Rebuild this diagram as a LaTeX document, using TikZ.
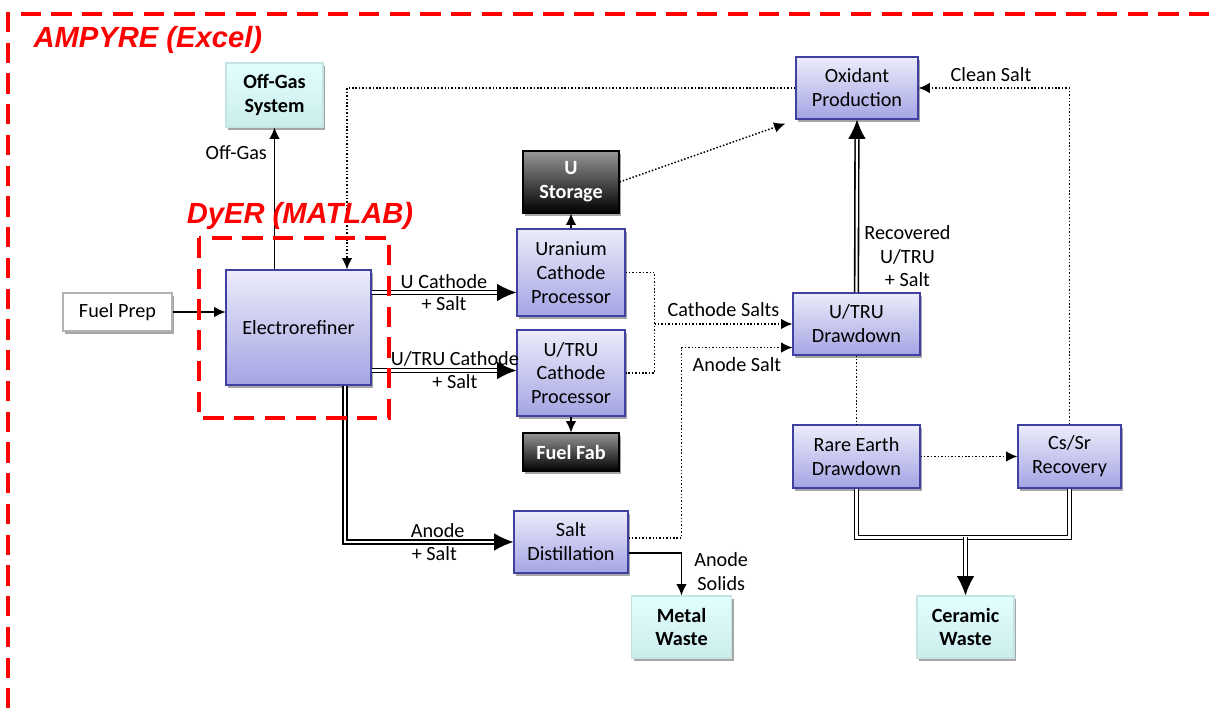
\documentclass[tikz,border=0pt]{standalone}
\usepackage{fontspec}
\setmainfont{Carlito}
\newfontfamily\titlefont{Liberation Sans}
\usetikzlibrary{arrows.meta,calc,shadows}
\definecolor{procline}{RGB}{64,64,160}
\definecolor{proctop}{RGB}{236,236,250}
\definecolor{procbot}{RGB}{164,164,228}
\definecolor{wastetop}{RGB}{226,255,255}
\definecolor{wastebot}{RGB}{204,236,236}
\definecolor{wasteline}{RGB}{196,228,228}
\definecolor{stortop}{RGB}{150,150,150}
\definecolor{zonered}{RGB}{255,0,0}
\begin{document}
\begin{tikzpicture}[x=0.02cm, y=-0.02cm, >={Latex[length=6.5pt,width=6pt]}, line width=0.7pt,
        boxbase/.style={draw, align=center, inner sep=1pt, line width=0.6pt,
            font=\fontsize{11.5}{13.6}\selectfont,
            drop shadow={shadow xshift=1.2pt, shadow yshift=-1.5pt, opacity=0.35, fill=black}},
        proc/.style={boxbase, draw=procline, top color=proctop, bottom color=procbot},
        waste/.style={boxbase, draw=wasteline, top color=wastetop, bottom color=wastebot,
            font=\fontsize{11.5}{13.6}\selectfont\bfseries},
        store/.style={boxbase, draw=black, top color=stortop, bottom color=black, text=white,
            font=\fontsize{11.5}{13.6}\selectfont\bfseries},
        feed/.style={boxbase, draw=black!30, fill=white},
        lbl/.style={font=\fontsize{11.5}{13.6}\selectfont, inner sep=1pt, align=center},
        dotflow/.style={line width=0.85pt, dash pattern=on 0.85pt off 1.1pt},
        dbl/.style={double, double distance=1.2pt, line width=0.9pt},
        dblarrow/.style={dbl, -{Latex[length=11pt,width=10pt]}},
        zone/.style={draw=zonered, line width=2pt, dash pattern=on 11.5pt off 6pt},
        zonetitle/.style={text=zonered, inner sep=0pt,
            font=\titlefont\fontsize{16.6}{19}\selectfont\bfseries\itshape}]
        \useasboundingbox (0,0) rectangle (1218,709);
        % process units
        \draw (274.5,95)node[waste, minimum width=1.94cm, minimum height=1.28cm, name=offgas]{Off-Gas\\System};
        \draw (857,88)node[proc, minimum width=2.44cm, minimum height=1.24cm, name=oxid]{Oxidant\\Production};
        \draw (571,182)node[store, minimum width=1.92cm, minimum height=1.24cm, name=ustor]{U\\Storage};
        \draw (117.5,312)node[feed, minimum width=2.18cm, minimum height=0.76cm, name=fuelprep]{Fuel Prep};
        \draw (298.5,327.5)node[proc, minimum width=2.9cm, minimum height=2.3cm, name=er]{Electrorefiner};
        \draw (571,272.5)node[proc, minimum width=2.16cm, minimum height=1.74cm, name=ucp]{Uranium\\Cathode\\Processor};
        \draw (571,373)node[proc, minimum width=2.16cm, minimum height=1.72cm, name=tcp]{U/TRU\\Cathode\\Processor};
        \draw (571,452)node[store, minimum width=1.92cm, minimum height=0.76cm, name=fab]{Fuel Fab};
        \draw (856.5,324)node[proc, minimum width=2.54cm, minimum height=1.24cm, name=utd]{U/TRU\\Drawdown};
        \draw (856.5,456.5)node[proc, minimum width=2.54cm, minimum height=1.26cm, name=red]{Rare Earth\\Drawdown};
        \draw (1069.5,456.5)node[proc, minimum width=2.06cm, minimum height=1.26cm, name=cssr]{Cs/Sr\\Recovery};
        \draw (571,542)node[proc, minimum width=2.28cm, minimum height=1.24cm, name=sdist]{Salt\\Distillation};
        \draw (681.5,627)node[waste, minimum width=2.0cm, minimum height=1.24cm, name=mwaste]{Metal\\Waste};
        \draw (965.5,627)node[waste, minimum width=1.94cm, minimum height=1.24cm, name=cwaste]{Ceramic\\Waste};
        % solid streams
        \draw[->] (fuelprep.east) -- (fuelprep.east -| er.west);
        \draw[->] (er.north -| offgas) -- node[lbl, left=3pt, pos=0.82]{Off-Gas} (offgas.south);
        \draw[->] (ucp.north) -- (ustor.south);
        \draw[->] (tcp.south) -- (fab.north);
        \draw[->] ($(sdist.east)+(0,11)$) -| node[lbl, right=6pt, pos=0.72]{Anode\\Solids} (mwaste.north);
        % double streams
        \draw[dblarrow] ($(er.north east)+(0,23)$) coordinate (ucout) -- node[lbl, above=1pt]{U Cathode} node[lbl, below=1pt]{+ Salt} (ucout -| ucp.west);
        \draw[dblarrow] ($(er.south east)+(0,-15)$) coordinate (tcout) -- node[lbl, above=1pt, pos=0.575]{U/TRU Cathode} node[lbl, below=1pt, pos=0.575]{+ Salt} (tcout -| tcp.west);
        \draw[dblarrow] ($(er.south)+(46.5,0)$) |- node[lbl, above=1pt, pos=0.775]{Anode} node[lbl, below=1pt, pos=0.765]{+ Salt} (sdist.west);
        \draw[dblarrow] (utd.north) -- node[lbl, right=3pt, pos=0.21]{Recovered\\U/TRU\\+ Salt} (oxid.south);
        \coordinate (cw) at ($(cwaste.north)+(0,-58)$);
        \draw[dbl] (red.south) |- (cw) -| (cssr.south);
        \draw[dblarrow] (cw) -- (cwaste.north);
        % salt recycle
        \draw[dotflow, ->] (oxid.west) -| ($(er.north)+(48.5,0)$);
        \draw[dotflow, ->] (ustor.east) -- ($(oxid.south west)+(-10,4)$);
        \coordinate (cs) at ($(ucp.east)+(29,0)$);
        \draw[dotflow] (ucp.east) -- (cs) |- (tcp.east);
        \draw[dotflow, ->] (cs |- utd.west) -- node[lbl, above=3pt]{Cathode Salts} (utd.west);
        \coordinate (as) at ($(utd.south west)+(-111,-8)$);
        \draw[dotflow, ->] ($(sdist.east)+(0,-4)$) -| (as) -- node[lbl, below=4pt]{Anode Salt} (as -| utd.west);
        \draw[dotflow] (utd.south) -- (red.north);
        \draw[dotflow, ->] (red.east) -- (cssr.west);
        \draw[dotflow, ->] (cssr.north) |- node[lbl, above=2pt, pos=0.76]{Clean Salt} (oxid.east);
        % code boundaries
        \draw[zone] (1240,14) -| (8,730);
        \draw[zone] (199,238) rectangle (389,418);
        \draw (33,40)node[zonetitle, anchor=west, name=ampyre]{AMPYRE (Excel)};
        \draw (300,216)node[zonetitle, name=dyer]{DyER (MATLAB)};
    \end{tikzpicture}
\end{document}
